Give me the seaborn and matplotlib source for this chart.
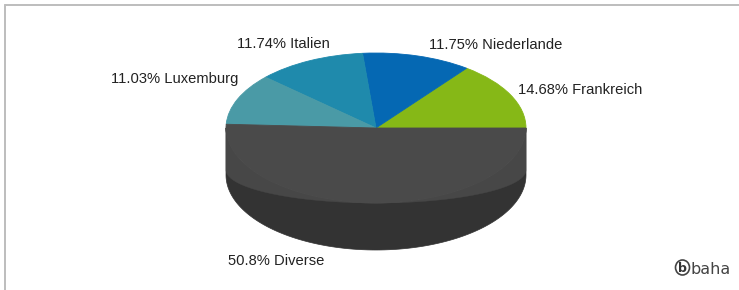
"""
3D-style pie chart: shares by country (baha).
"""
import matplotlib
matplotlib.use('Agg')
import matplotlib.pyplot as plt
import numpy as np
import seaborn as sns
from matplotlib.lines import Line2D
from matplotlib.patches import Ellipse, Polygon

# data
COUNTRIES = ['Frankreich', 'Niederlande', 'Italien', 'Luxemburg', 'Diverse']
SHARES = [14.68, 11.75, 11.74, 11.03, 50.8]
SHARE_LABELS = ['14.68%', '11.75%', '11.74%', '11.03%', '50.8%']

# style
TOP_COLORS = ['#86b817', '#0568b3', '#1f8aac', '#4a9aa6', '#4a4a4a']
SIDE_COLORS = ['#5e8210', '#03487d', '#16617a', '#346c74', '#333333']
BAND_COLORS = ['#7aa815', '#055fa3', '#1c7e9d', '#448c97', '#474747']

# label anchors in pie units (x: radius 1 = 150px, y: radius 1 = 75px)
LABEL_POS = [(0.947, 0.507, 'left'), (0.353, 1.107, 'left'),
             (-0.307, 1.12, 'right'), (-0.92, 0.653, 'right'),
             (-0.987, -1.773, 'left')]

W, H = 739, 290
CX, CY = 376, 128          # pie centre in pixels
RX, RY = 150, 75           # pixel size of one pie unit
DEPTH = 47 / RY            # side height in pie units


def main():
    sns.set_theme(style='white')
    plt.rcParams['font.family'] = ['Liberation Sans', 'DejaVu Sans']

    fig = plt.figure(figsize=(W / 100, H / 100), dpi=100)
    fig.patch.set_facecolor('white')
    ax = fig.add_axes([0, 0, 1, 1])

    wedges, _ = ax.pie(SHARES, colors=sns.color_palette(TOP_COLORS), startangle=0,
                       counterclock=True, radius=1)
    for w in wedges:
        w.set_edgecolor(w.get_facecolor())
        w.set_linewidth(0.6)
        w.set_zorder(3)

    # visible side of the cylinder (front half, 180..360 deg)
    for w, side_c, band_c in zip(wedges, SIDE_COLORS, BAND_COLORS):
        lo, hi = max(w.theta1, 180), min(w.theta2, 360)
        if hi <= lo:
            continue
        t = np.radians(np.linspace(lo, hi, 200))
        top = np.column_stack([np.cos(t), np.sin(t)])
        bottom = np.column_stack([np.cos(t), np.sin(t) - DEPTH])[::-1]
        band = np.column_stack([np.cos(t), -0.56 + 0.44 * np.sin(t)])[::-1]
        ax.add_patch(Polygon(np.vstack([top, bottom]), closed=True, fc=side_c,
                             ec=side_c, lw=0.5, zorder=1))
        ax.add_patch(Polygon(np.vstack([top, band]), closed=True, fc=band_c,
                             ec=band_c, lw=0.3, zorder=2))

    ax.set_aspect('auto')
    ax.set_xlim(-CX / RX, (W - CX) / RX)
    ax.set_ylim((CY - H) / RY, CY / RY)
    ax.axis('off')

    for (x, y, ha), pct, name in zip(LABEL_POS, SHARE_LABELS, COUNTRIES):
        ax.text(x, y, f'{pct} {name}', ha=ha, va='center', fontsize=10.6,
                color='#222222', zorder=5)

    # frame lines (top and left only)
    fig.add_artist(Line2D([5 / W, 1], [1 - 5 / H, 1 - 5 / H], color='#bdbdbd', lw=1.4))
    fig.add_artist(Line2D([5 / W, 5 / W], [0, 1 - 5 / H], color='#bdbdbd', lw=1.4))

    # baha logo
    fig.add_artist(Ellipse((682.5 / W, 1 - 267.5 / H), 14 / W, 15 / H,
                           transform=fig.transFigure, fill=False, ec='#444444', lw=1.2))
    fig.text(682.5 / W, 1 - 268 / H, 'b', ha='center', va='center', fontsize=9,
             fontweight='bold', color='#333333', family=['DejaVu Sans'])
    fig.text(690 / W, 1 - 269 / H, 'baha', ha='left', va='center', fontsize=11.5,
             color='#444444', family=['DejaVu Sans'])

    fig.savefig('out.png', dpi=100, facecolor='white')
    plt.close(fig)


if __name__ == '__main__':
    main()
